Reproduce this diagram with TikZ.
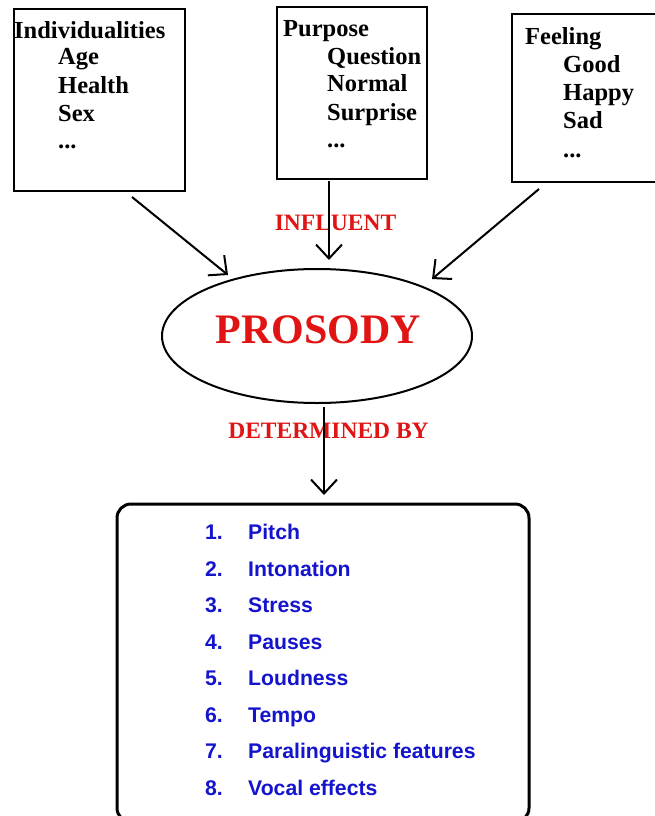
\documentclass[tikz,border=0pt]{standalone}
\usepackage{fontspec}
\setmainfont{Liberation Serif}
\newfontfamily\arialfont{Liberation Sans}
\usetikzlibrary{shapes.geometric,arrows.meta}
\definecolor{myred}{RGB}{225,20,20}
\definecolor{myblue}{RGB}{20,20,205}
\begin{document}
\begin{tikzpicture}[x=1pt,y=-1pt,
  topbox/.style={draw,line width=2.5pt,inner sep=0pt},
  boxtxt/.style={anchor=base west,inner sep=0pt,font=\fontsize{24.5}{28}\selectfont\bfseries},
  redlbl/.style={anchor=base,inner sep=0pt,text=myred,font=\fontsize{23.5}{28}\selectfont\bfseries},
  numtxt/.style={anchor=base west,inner sep=0pt,text=myblue,font=\arialfont\fontsize{21.2}{25}\selectfont\bfseries},
  arr/.style={line width=2pt,-{Straight Barb[length=14pt,width=26pt]}}]
\clip (0,0) rectangle (655,816);
\fill[white] (0,0) rectangle (655,816);
% top boxes
\node[topbox,minimum width=171pt,minimum height=182pt] (b1) at (99.5,100) {};
\node[topbox,minimum width=150pt,minimum height=172pt] (b2) at (352,93) {};
\node[topbox,minimum width=160pt,minimum height=168pt] (b3) at (592,98) {};
% box 1 text
\node[boxtxt] (t11) at (14,38) {Individualities};
\node[boxtxt] (t12) at (58,65) {Age};
\node[boxtxt] (t13) at (58,93) {Health};
\node[boxtxt] (t14) at (58,121) {Sex};
\node[boxtxt] (t15) at (58,148) {...};
% box 2 text
\node[boxtxt] (t21) at (283,37) {Purpose};
\node[boxtxt] (t22) at (327,64) {Question};
\node[boxtxt] (t23) at (327,92) {Normal};
\node[boxtxt] (t24) at (327,120) {Surprise};
\node[boxtxt] (t25) at (327,147) {...};
% box 3 text
\node[boxtxt] (t31) at (525,45) {Feeling};
\node[boxtxt] (t32) at (563,73) {Good};
\node[boxtxt] (t33) at (563,100) {Happy};
\node[boxtxt] (t34) at (563,128) {Sad};
\node[boxtxt] (t35) at (563,157) {...};
% ellipse
\node[draw,ellipse,line width=2pt,minimum width=310pt,minimum height=134pt,inner sep=0pt] (ell) at (317,336) {};
\node[anchor=base,inner sep=0pt,text=myred,font=\fontsize{42}{46}\selectfont\bfseries] (pros) at (318.5,343) {PROSODY};
% labels
\node[redlbl] (infl) at (335.5,230) {INFLUENT};
\node[redlbl] (detb) at (328.5,438) {DETERMINED BY};
% bottom box
\node[draw,line width=3pt,rounded corners=14pt,minimum width=412pt,minimum height=318pt,inner sep=0pt] (lst) at (323,663) {};
\node[numtxt] (n1) at (205,539) {1.};
\node[numtxt] (i1) at (248,539) {Pitch};
\node[numtxt] (n2) at (205,576) {2.};
\node[numtxt] (i2) at (248,576) {Intonation};
\node[numtxt] (n3) at (205,612) {3.};
\node[numtxt] (i3) at (248,612) {Stress};
\node[numtxt] (n4) at (205,649) {4.};
\node[numtxt] (i4) at (248,649) {Pauses};
\node[numtxt] (n5) at (205,685) {5.};
\node[numtxt] (i5) at (248,685) {Loudness};
\node[numtxt] (n6) at (205,722) {6.};
\node[numtxt] (i6) at (248,722) {Tempo};
\node[numtxt] (n7) at (205,758) {7.};
\node[numtxt] (i7) at (248,758) {Paralinguistic features};
\node[numtxt] (n8) at (205,795) {8.};
\node[numtxt] (i8) at (248,795) {Vocal effects};
% connector endpoints
\coordinate (a1s) at (132,197);
\coordinate (a1e) at (228,275);
\coordinate (a2s) at (329,181);
\coordinate (a2e) at (329,260);
\coordinate (a3s) at (539,189);
\coordinate (a3e) at (432,279);
\coordinate (a4s) at (324,407);
\coordinate (a4e) at (324,495);
\draw[arr] (a1s) -- (a1e);
\draw[arr] (a2s) -- (a2e);
\draw[arr] (a3s) -- (a3e);
\draw[arr] (a4s) -- (a4e);
\end{tikzpicture}
\end{document}
